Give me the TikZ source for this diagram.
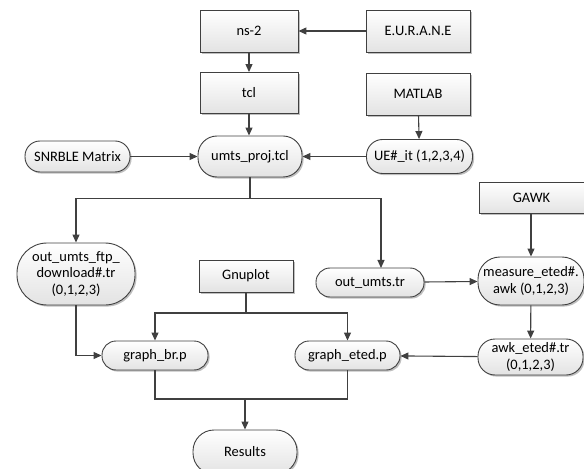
\documentclass[tikz,border=0pt]{standalone}
\usepackage{fontspec}
\setmainfont{Carlito}
\usetikzlibrary{arrows.meta,shadows}
\definecolor{edge}{HTML}{404040}
\tikzset{
  base/.style={draw=edge, line width=0.9bp, top color=white, bottom color=black!11,
    drop shadow={shadow xshift=1.6bp, shadow yshift=-1.6bp, opacity=0.25, fill=black},
    font=\fontsize{14.5}{17}\selectfont, align=center, inner sep=0.5bp, text=black},
  rectbox/.style 2 args={base, minimum width=#1, minimum height=#2},
  pill/.style n args={3}{base, rounded corners=#3, minimum width=#1, minimum height=#2},
  arr/.style={draw=edge, line width=1.1bp, -{Triangle[length=8bp,width=7bp]}},
  ln/.style={draw=edge, line width=1.1bp}
}
\begin{document}
\begin{tikzpicture}[x=1bp,y=-1bp]
\useasboundingbox (0,0) rectangle (584,469);
\begin{scope}
\clip (0,0) rectangle (584,469);
\node[rectbox={98bp}{42bp}] (ns2) at (249,31) {ns-2};
\node[rectbox={104bp}{42bp}] (eurane) at (418,31) {E.U.R.A.N.E};
\node[rectbox={98bp}{41bp}] (tcl) at (249,93) {tcl};
\node[rectbox={104bp}{42bp}] (matlab) at (418,94) {MATLAB};
\node[pill={104bp}{41bp}{19bp}] (umts) at (250,156.5) {umts\_proj.tcl};
\node[pill={105bp}{31bp}{15bp}] (snr) at (77.5,156.5) {SNRBLE Matrix};
\node[pill={106bp}{34bp}{16bp}] (ue) at (419.5,156.5) {UE\#\_it (1,2,3,4)};
\node[rectbox={105bp}{31bp}] (gawk) at (531.5,198) {GAWK};
\node[pill={118bp}{62bp}{30bp}] (ftp) at (76,274) {out\_umts\_ftp\_\\download\#.tr\\(0,1,2,3)};
\node[rectbox={94bp}{32bp}] (gnu) at (246,276) {Gnuplot};
\node[pill={108bp}{29bp}{14bp}] (outumts) at (370,282.5) {out\_umts.tr};
\node[pill={106bp}{48bp}{22bp}] (meas) at (531,281) {measure\_eted\#.\\awk (0,1,2,3)};
\node[pill={106bp}{29bp}{14bp}] (br) at (155,355.5) {graph\_br.p};
\node[pill={105bp}{29bp}{14bp}] (eted) at (347.5,355.5) {graph\_eted.p};
\node[pill={105bp}{36bp}{17bp}] (awk) at (530.5,357) {awk\_eted\#.tr\\(0,1,2,3)};
\node[pill={104bp}{44bp}{21bp}] (res) at (245,452) {Results};
\end{scope}
\draw[arr] (eurane) -- (ns2);
\draw[arr] (ns2) -- (tcl);
\draw[arr] (tcl.south) -- (tcl.south |- umts.north);
\draw[arr] (matlab) -- (ue);
\draw[arr] (snr) -- (umts);
\draw[arr] (ue) -- (umts);
\draw[ln] (umts.south) -- (umts.south |- 0,198.5) coordinate (split);
\draw[arr] (split) -| (ftp.north);
\coordinate (rtop) at (381,268);
\draw[arr] (split) -| (rtop);
\draw[arr] (gawk.south -| meas.north) -- (meas.north);
\draw[arr] (outumts) -- (meas);
\draw[arr] (meas) -- (awk);
\draw[arr] (awk) -- (eted);
\draw[ln] (gnu.south) -- (gnu.south |- 0,313) coordinate (gsplit);
\draw[arr] (gsplit) -| (br.north);
\draw[arr] (gsplit) -| (eted.north);
\draw[arr] (ftp.south) |- (br.west);
\draw[ln] (br.south) |- (eted.south |- 0,399) -- (eted.south);
\coordinate (jm) at (245,399);
\draw[arr] (jm) -- (res.north);
\end{tikzpicture}
\end{document}
